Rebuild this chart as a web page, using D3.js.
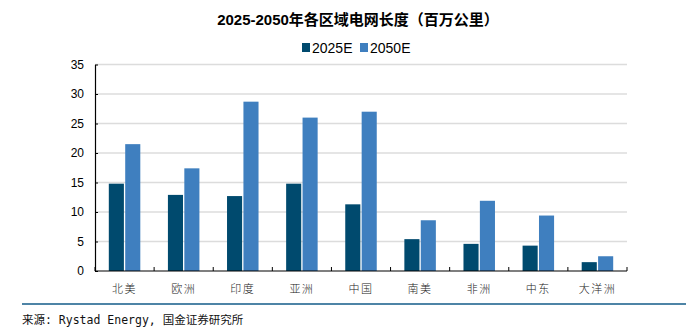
<!DOCTYPE html>
<html>
<head>
<meta charset="utf-8">
<script src="https://cdn.jsdelivr.net/npm/d3@7/dist/d3.min.js"></script>
<style>
  html, body { margin: 0; padding: 0; background: #fff; }
  svg { display: block; }
</style>
</head>
<body>
<svg id="chart" width="686" height="328"></svg>
<script>
// Grid length by region, million km
const regions = ["北美", "欧洲", "印度", "亚洲", "中国", "南美", "非洲", "中东", "大洋洲"];
const seriesNames = ["2025E", "2050E"];
const values2025 = [14.8, 12.9, 12.7, 14.8, 11.3, 5.4, 4.6, 4.3, 1.5];
const values2050 = [21.5, 17.4, 28.7, 26.0, 27.0, 8.6, 11.9, 9.4, 2.5];
const yTicks = [0, 5, 10, 15, 20, 25, 30, 35];
const colors = ["#004a6e", "#3f7fbf"];

const svg = d3.select("#chart");
const margin = { left: 95, right: 59, top: 64.5, bottom: 57 };
const W = 686, H = 328;
const plotW = W - margin.left - margin.right;
const plotH = H - margin.top - margin.bottom;

const g = svg.append("g").attr("transform", `translate(${margin.left},${margin.top})`);

const x = d3.scaleBand().domain(regions).range([0, plotW]).paddingInner(0).paddingOuter(0);
const x1 = d3.scaleBand().domain(seriesNames).range([0, 31.5]).paddingInner(0.08);
const y = d3.scaleLinear().domain([0, 35]).range([plotH, 0]);

// Horizontal gridlines
g.append("g").selectAll("line").data(yTicks.filter(t => t > 0)).join("line")
  .attr("x1", 0).attr("x2", plotW)
  .attr("y1", d => y(d)).attr("y2", d => y(d))
  .attr("stroke", "#dcdcdc").attr("stroke-width", 1.5);

// Bars
const rows = regions.map((r, i) => ({ region: r, vals: [values2025[i], values2050[i]] }));
const groups = g.append("g").selectAll("g").data(rows).join("g")
  .attr("transform", d => `translate(${x(d.region) + x.bandwidth() / 2 - 15.75},0)`);
groups.selectAll("rect").data(d => d.vals.map((v, k) => ({ key: seriesNames[k], v, k }))).join("rect")
  .attr("x", d => x1(d.key))
  .attr("width", x1.bandwidth())
  .attr("y", d => y(d.v))
  .attr("height", d => plotH - y(d.v))
  .attr("fill", d => colors[d.k]);

// Y axis: ticks pointing inward
const yAxis = g.append("g").call(d3.axisLeft(y).tickValues(yTicks).tickSizeInner(-3).tickSizeOuter(0).tickPadding(11));
yAxis.select(".domain").attr("stroke", "#000").attr("stroke-width", 1.2);
yAxis.selectAll(".tick line").attr("stroke", "#000");
yAxis.selectAll("text").attr("font-family", "Liberation Sans, Arial, sans-serif").attr("font-size", 12).attr("fill", "#000");

// X axis: baseline with inward ticks at category boundaries
const xAxis = g.append("g").attr("transform", `translate(0,${plotH})`);
xAxis.append("line").attr("x1", 0).attr("x2", plotW).attr("stroke", "#000").attr("stroke-width", 1.2);
const bounds = regions.map(r => x(r)).concat([plotW]);
xAxis.selectAll("line.tk").data(bounds).join("line").attr("class", "tk")
  .attr("x1", d => d).attr("x2", d => d).attr("y1", 0).attr("y2", -4)
  .attr("stroke", "#000").attr("stroke-width", 1);
xAxis.selectAll("text").data(regions).join("text")
  .attr("x", d => x(d) + x.bandwidth() / 2)
  .attr("y", 22)
  .attr("text-anchor", "middle")
  .attr("font-family", "Noto Sans CJK SC, sans-serif")
  .attr("font-size", 11)
  .attr("font-weight", 300)
  .attr("letter-spacing", 1.5)
  .attr("fill", "#222")
  .text(d => d);

// Title
svg.append("text")
  .attr("x", 358).attr("y", 25)
  .attr("text-anchor", "middle")
  .attr("font-family", "Liberation Sans, Noto Sans CJK SC, sans-serif")
  .attr("font-weight", "bold").attr("font-size", 15).attr("fill", "#000")
  .text("2025-2050年各区域电网长度（百万公里）");

// Legend
const legend = svg.append("g").attr("transform", "translate(302,41)");
const legendX = [0, 58];
seriesNames.forEach((s, i) => {
  legend.append("rect").attr("x", legendX[i]).attr("y", 2).attr("width", 8).attr("height", 9).attr("fill", colors[i]);
  legend.append("text").attr("x", legendX[i] + 10).attr("y", 11.5)
    .attr("font-family", "Liberation Sans, Arial, sans-serif").attr("font-size", 14).attr("fill", "#000")
    .text(s);
});

// Footer rule and source
svg.append("line").attr("x1", 22).attr("x2", 686).attr("y1", 304).attr("y2", 304)
  .attr("stroke", "#4e84a6").attr("stroke-width", 2.2);
svg.append("text").attr("x", 22).attr("y", 324)
  .attr("font-family", "DejaVu Sans Mono, Noto Sans CJK SC, monospace")
  .attr("font-size", 11.5).attr("fill", "#111")
  .text("来源: Rystad Energy, 国金证券研究所");
</script>
</body>
</html>
